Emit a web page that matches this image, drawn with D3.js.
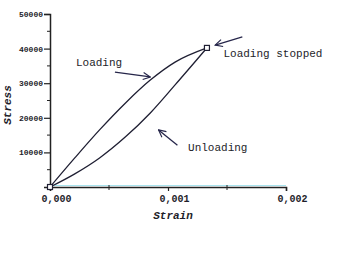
<!DOCTYPE html>
<html>
<head>
<meta charset="utf-8">
<script src="https://cdn.jsdelivr.net/npm/d3@7"></script>
<style>
  body { margin: 0; background: #fff; }
  text { font-family: "Liberation Mono", "DejaVu Sans Mono", monospace; fill: #1e1e2a; }
</style>
</head>
<body>
<div id="viz"></div>
<script>
const width = 340,
    height = 269;

// both branches sampled at the same strains
const strain = [0, 0.00021, 0.00042, 0.00064, 0.00085, 0.00106, 0.00133];
const loadStress = [0, 8400, 16500, 24300, 30900, 36100, 40200];
const unloadStress = [0, 3800, 8400, 14500, 21400, 29500, 40200];

const strainTicks = [0, 0.001, 0.002];
const strainMinor = [0.0005, 0.0015];
const stressTicks = [10000, 20000, 30000, 40000, 50000];
const stressMinor = [5000, 15000, 25000, 35000, 45000];

// annotations: label, text anchor point, arrow from / to (data units)
const notes = [
    { label: "Loading", at: [0.00022, 35000], from: [0.00055, 33200], to: [0.00085, 31800] },
    { label: "Loading stopped", at: [0.00147, 37600], from: [0.00163, 43400], to: [0.00140, 41000] },
    { label: "Unloading", at: [0.00117, 10400], from: [0.00108, 12100], to: [0.00092, 16500] }
];

const x = d3.scaleLinear().domain([0, 0.002]).range([50, 286]);
const y = d3.scaleLinear().domain([0, 50000]).range([187, 14]);

const svg = d3.select("#viz").append("svg")
    .attr("width", width)
    .attr("height", height);

svg.append("defs").append("marker")
    .attr("id", "head")
    .attr("viewBox", "0 0 10 10")
    .attr("refX", 9).attr("refY", 5)
    .attr("markerWidth", 9).attr("markerHeight", 9)
    .attr("markerUnits", "userSpaceOnUse")
    .attr("orient", "auto")
    .append("path")
    .attr("d", "M1,1 L9,5 L1,9")
    .attr("fill", "none")
    .attr("stroke", "#26264a")
    .attr("stroke-width", 1.3);

// x axis (faint cyan halo like the scan)
svg.append("line")
    .attr("x1", x(0)).attr("x2", x(0.002))
    .attr("y1", y(0) - 1.5).attr("y2", y(0) - 1.5)
    .attr("stroke", "#a8e4ee").attr("stroke-width", 1.2);

const xAxis = svg.append("g")
    .attr("transform", "translate(0," + y(0) + ")")
    .call(d3.axisBottom(x).tickValues(strainTicks).tickSize(4).tickFormat(d => d3.format(".3f")(d).replace(".", ",")));
xAxis.append("g").selectAll("line")
    .data(strainMinor)
    .enter().append("line")
    .attr("x1", d => x(d)).attr("x2", d => x(d))
    .attr("y1", -2).attr("y2", 3)
    .attr("stroke", "#222");

const yAxis = svg.append("g")
    .attr("transform", "translate(" + x(0) + ",0)")
    .call(d3.axisLeft(y).tickValues(stressTicks).tickSize(6).tickFormat(d3.format("d")));
yAxis.append("g").selectAll("line")
    .data(stressMinor)
    .enter().append("line")
    .attr("x1", -3).attr("x2", 0)
    .attr("y1", d => y(d)).attr("y2", d => y(d))
    .attr("stroke", "#222");

svg.selectAll(".domain").attr("stroke", "#222").attr("stroke-width", 1.5);
svg.selectAll(".tick line").attr("stroke", "#222").attr("stroke-width", 1.2);
xAxis.selectAll(".tick text")
    .attr("dx", 6).attr("dy", 8)
    .style("font-size", "10px").style("font-weight", "bold");
yAxis.selectAll(".tick text")
    .attr("x", -7)
    .style("font-size", "8px").style("font-weight", "bold");

// curves
const line = d3.line()
    .x(d => x(d[0]))
    .y(d => y(d[1]))
    .curve(d3.curveMonotoneX);

[loadStress, unloadStress].forEach(s => {
    svg.append("path")
        .datum(d3.zip(strain, s))
        .attr("d", line)
        .attr("fill", "none")
        .attr("stroke", "#1f1f33")
        .attr("stroke-width", 1.3);
});

// open markers at the origin and where loading stopped
const last = strain.length - 1;
svg.selectAll(".pt")
    .data([[strain[0], loadStress[0]], [strain[last], loadStress[last]]])
    .enter().append("rect")
    .attr("x", d => x(d[0]) - 2.5)
    .attr("y", d => y(d[1]) - 2.5)
    .attr("width", 5).attr("height", 5)
    .attr("fill", "#fff")
    .attr("stroke", "#1f1f33")
    .attr("stroke-width", 1.2);

// annotations
notes.forEach(n => {
    svg.append("line")
        .attr("x1", x(n.from[0])).attr("y1", y(n.from[1]))
        .attr("x2", x(n.to[0])).attr("y2", y(n.to[1]))
        .attr("stroke", "#26264a")
        .attr("stroke-width", 1.3)
        .attr("marker-end", "url(#head)");
    svg.append("text")
        .attr("x", x(n.at[0]))
        .attr("y", y(n.at[1]))
        .style("font-size", "11px")
        .text(n.label);
});

// axis titles
svg.append("text")
    .attr("x", 173).attr("y", 219)
    .attr("text-anchor", "middle")
    .style("font-size", "11px").style("font-style", "italic").style("font-weight", "bold")
    .text("Strain");

svg.append("text")
    .attr("transform", "translate(11,105) rotate(-90)")
    .attr("text-anchor", "middle")
    .style("font-size", "11px").style("font-style", "italic").style("font-weight", "bold")
    .text("Stress");
</script>
</body>
</html>
